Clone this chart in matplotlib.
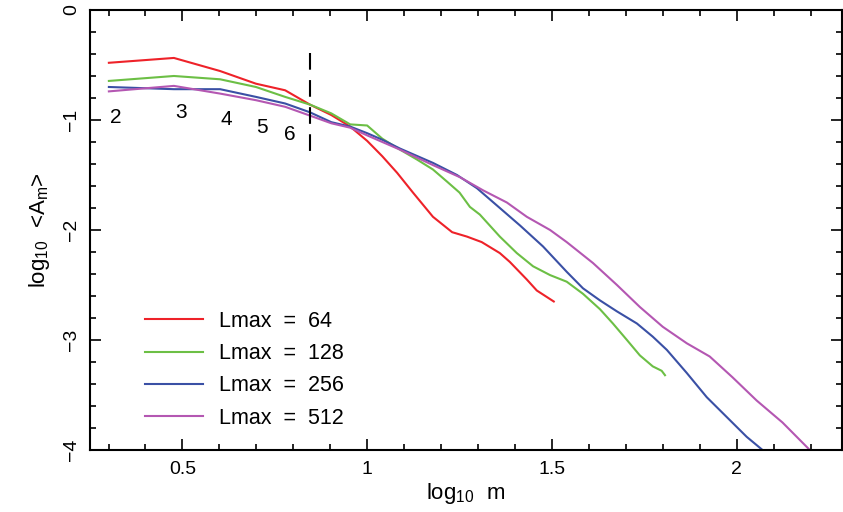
import numpy as np
import matplotlib
matplotlib.use("Agg")
import matplotlib.pyplot as plt
from matplotlib.ticker import MultipleLocator

plt.rcParams['font.family'] = ['Liberation Sans', 'DejaVu Sans']
plt.rcParams['mathtext.default'] = 'regular'

# log10 m values and log10 <A_m>
x64 = [0.301, 0.477, 0.602, 0.699, 0.778, 0.845, 0.903, 0.954, 1.0, 1.041, 1.081,
       1.124, 1.178, 1.23, 1.27, 1.31, 1.359, 1.386, 1.432, 1.459, 1.505]
y64 = [-0.48, -0.436, -0.555, -0.67, -0.73, -0.86, -0.955, -1.06, -1.19, -1.33, -1.48,
       -1.66, -1.88, -2.02, -2.06, -2.11, -2.21, -2.29, -2.45, -2.55, -2.65]

x128 = [0.301, 0.477, 0.602, 0.699, 0.778, 0.845, 0.903, 0.954, 1.0, 1.041, 1.089,
        1.135, 1.178, 1.216, 1.25, 1.278, 1.305, 1.359, 1.405, 1.449, 1.495, 1.54,
        1.584, 1.63, 1.665, 1.703, 1.738, 1.773, 1.797, 1.806]
y128 = [-0.645, -0.60, -0.63, -0.70, -0.79, -0.86, -0.94, -1.04, -1.05, -1.17, -1.27,
        -1.36, -1.45, -1.56, -1.66, -1.79, -1.86, -2.06, -2.21, -2.33, -2.41, -2.47,
        -2.58, -2.72, -2.85, -3.0, -3.14, -3.24, -3.28, -3.32]

x256 = [0.301, 0.477, 0.602, 0.699, 0.778, 0.845, 0.903, 0.954, 1.0, 1.041, 1.089,
        1.178, 1.243, 1.297, 1.359, 1.414, 1.476, 1.54, 1.584, 1.63, 1.676, 1.73,
        1.773, 1.811, 1.865, 1.919, 1.973, 2.027, 2.07, 2.107]
y256 = [-0.70, -0.72, -0.72, -0.79, -0.85, -0.93, -1.02, -1.06, -1.12, -1.18, -1.26,
        -1.39, -1.50, -1.62, -1.80, -1.96, -2.15, -2.38, -2.53, -2.64, -2.74, -2.85,
        -2.97, -3.09, -3.30, -3.52, -3.70, -3.88, -4.0, -4.13]

x512 = [0.301, 0.477, 0.602, 0.699, 0.778, 0.845, 0.903, 0.954, 1.0, 1.041, 1.089,
        1.178, 1.251, 1.314, 1.378, 1.432, 1.495, 1.54, 1.611, 1.676, 1.738, 1.80,
        1.865, 1.927, 1.989, 2.054, 2.124, 2.192, 2.25]
y512 = [-0.74, -0.69, -0.76, -0.82, -0.88, -0.96, -1.03, -1.07, -1.14, -1.20, -1.27,
        -1.41, -1.52, -1.64, -1.75, -1.88, -2.0, -2.11, -2.30, -2.50, -2.70, -2.88,
        -3.03, -3.15, -3.34, -3.55, -3.75, -3.98, -4.18]

# small m labels near the curves
m_labels = ['2', '3', '4', '5', '6']
m_lab_x = [0.32, 0.495, 0.619, 0.716, 0.792]
m_lab_y = [-0.98, -0.93, -1.0, -1.07, -1.13]

series = [(x64, y64, '#ee2229', 'Lmax  =  64'),
          (x128, y128, '#6cbf45', 'Lmax  =  128'),
          (x256, y256, '#3a50a5', 'Lmax  =  256'),
          (x512, y512, '#b457b2', 'Lmax  =  512')]

fig = plt.figure(figsize=(8.43, 5.12), dpi=100)
ax = fig.add_axes([0.1068, 0.1211, 0.892, 0.8594])

for xs, ys, c, lab in series:
    ax.plot(xs, ys, color=c, lw=1.5, label=lab)

ax.plot([np.log10(7)] * 2, [-0.39, -1.36], color='black', lw=1.5, dashes=(8, 5))

for t, tx, ty in zip(m_labels, m_lab_x, m_lab_y):
    ax.text(tx, ty, t, fontsize=15, ha='center', va='center')

ax.set_xlim(0.25, 2.285)
ax.set_ylim(-4, 0)
ax.xaxis.set_major_locator(MultipleLocator(0.5))
ax.xaxis.set_minor_locator(MultipleLocator(0.1))
ax.yaxis.set_major_locator(MultipleLocator(1))
ax.yaxis.set_minor_locator(MultipleLocator(0.2))
ax.set_xticks([0.5, 1, 1.5, 2])
ax.set_xticklabels(['0.5', '1', '1.5', '2'])
ax.tick_params(which='both', direction='in', top=True, right=True, labelsize=14, width=1.2)
ax.tick_params(which='major', length=8)
ax.tick_params(which='minor', length=4)
ax.tick_params(axis='x', pad=8)
ax.tick_params(axis='y', pad=7)
for lbl in ax.get_yticklabels():
    lbl.set_rotation(90)
    lbl.set_va('center')
for s in ax.spines.values():
    s.set_linewidth(1.5)

ax.set_xlabel('log$_{10}$  m', fontsize=16, labelpad=2)
ax.set_ylabel('log$_{10}$  <A$_m$>', fontsize=16, labelpad=8)

ax.legend(loc='upper left', bbox_to_anchor=(0.073, 0.316), frameon=False,
          fontsize=15.5, handlelength=2.7, handletextpad=0.75, labelspacing=0.52,
          borderpad=0, borderaxespad=0)

fig.savefig('out.png', dpi=100)
